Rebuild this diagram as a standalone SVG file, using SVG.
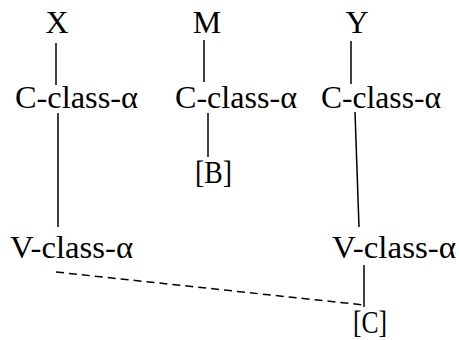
<svg xmlns="http://www.w3.org/2000/svg" width="459" height="340" viewBox="0 0 459 340">
<style>
text{font-family:"Liberation Serif","Times New Roman",serif;font-size:32px;fill:#000}
.l{stroke:#000;stroke-width:1.5;fill:none}
.d{stroke:#000;stroke-width:1.5;fill:none;stroke-dasharray:8,5}
</style>
<rect width="459" height="340" fill="#fff"/>
<g id="connectors">
<line class="l" x1="56" y1="43" x2="56" y2="85"/>
<line class="l" x1="204" y1="40" x2="204" y2="82"/>
<line class="l" x1="351" y1="41" x2="351" y2="84"/>
<line class="l" x1="58" y1="113" x2="58" y2="227"/>
<line class="l" x1="208" y1="113" x2="208" y2="157"/>
<line class="l" x1="355" y1="112" x2="359" y2="227"/>
<line class="l" x1="364" y1="265" x2="364" y2="307"/>
<line class="d" x1="56" y1="272" x2="364" y2="305"/>
</g>
<g id="X"><text x="57" y="33" text-anchor="middle">X</text></g>
<g id="M"><text x="207" y="33" text-anchor="middle">M</text></g>
<g id="Y"><text x="357" y="33" text-anchor="middle">Y</text></g>
<g id="C1"><text x="15" y="108" textLength="123" lengthAdjust="spacingAndGlyphs">C-class-α</text></g>
<g id="C2"><text x="175" y="108" textLength="122" lengthAdjust="spacingAndGlyphs">C-class-α</text></g>
<g id="C3"><text x="321" y="108" textLength="120" lengthAdjust="spacingAndGlyphs">C-class-α</text></g>
<g id="B"><text x="195" y="183" textLength="37" lengthAdjust="spacingAndGlyphs">[B]</text></g>
<g id="V1"><text x="10" y="258" textLength="123" lengthAdjust="spacingAndGlyphs">V-class-α</text></g>
<g id="V2"><text x="332" y="258" textLength="124" lengthAdjust="spacingAndGlyphs">V-class-α</text></g>
<g id="Cc"><text x="353" y="333" textLength="34" lengthAdjust="spacingAndGlyphs">[C]</text></g>
</svg>
